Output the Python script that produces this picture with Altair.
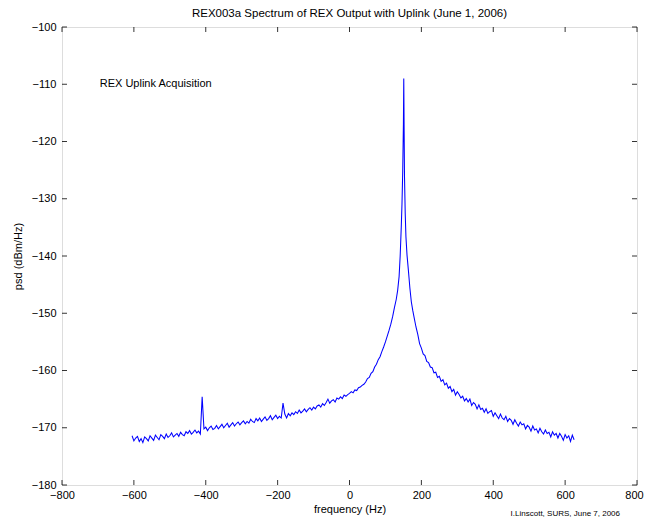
import altair as alt
import pandas as pd

# ---- data ----
freq_left = list(range(-605, 130, 5))
psd_left = [
    -171.4, -172.3, -171.8, -171.5, -172.4, -171.9, -172.6, -171.6, -171.9, -172.3,
    -171.4, -171.8, -172.2, -171.3, -171.7, -172.1, -171.2, -171.5, -171.9, -171.1,
    -171.7, -171.4, -170.9, -171.6, -171.3, -171.0, -171.5, -170.8, -171.2, -171.4,
    -170.7, -171.0, -170.5, -171.1, -170.8, -170.4, -170.9, -170.6, -171.1, -164.6,
    -170.2, -169.9, -170.5, -170.0, -169.7, -170.3, -170.1, -169.6, -170.2, -169.8,
    -169.4, -170.0, -169.6, -169.2, -169.9, -169.5, -169.1, -169.7, -169.3, -169.0,
    -169.5, -169.1, -168.8, -169.3, -168.9, -169.2, -168.5, -168.9, -169.1, -168.4,
    -168.8, -168.3, -168.9, -168.5, -168.1, -168.7, -168.4, -167.9, -168.6, -168.2,
    -167.8, -168.4, -168.0, -168.3, -165.7, -167.6, -168.3, -167.5, -167.9, -167.4,
    -167.7, -167.2, -167.5, -166.9, -167.4, -167.1, -166.7, -167.2, -166.8, -166.5,
    -166.9, -166.4, -166.7, -166.2, -166.0, -166.4, -165.8, -166.1, -165.6, -165.0,
    -165.7, -165.3, -165.1, -165.5, -164.8, -165.0, -164.6, -164.9, -164.3, -164.5,
    -164.2, -164.0, -163.7, -163.9, -163.4, -163.5, -163.0, -162.9, -162.6, -162.4,
    -162.0, -161.4, -161.2, -160.5, -160.2, -159.4, -158.9, -158.1, -157.6, -156.7,
    -155.9, -155.0, -154.0, -153.0, -151.9, -150.6, -149.0,
]
freq_peak = [130, 134, 138, 141, 144, 146, 148, 150, 151, 152, 153, 155, 157, 160, 164, 168, 172, 176]
psd_peak = [-147.6, -146.0, -143.6, -140.0, -135.0, -131.0, -125.5, -117.0, -109.0,
            -118.0, -126.0, -132.5, -136.6, -139.8, -142.6, -145.6, -148.0, -149.5]
freq_right = list(range(180, 630, 5))
psd_right = [
    -150.8, -152.4, -153.7, -155.3, -156.1, -157.1, -157.4, -158.4, -158.6, -159.4,
    -159.5, -160.4, -160.3, -161.2, -161.0, -161.9, -161.6, -162.5, -162.2, -163.1,
    -162.8, -163.7, -163.3, -164.3, -163.7, -164.2, -164.8, -164.5, -165.3, -164.9,
    -165.5, -165.0, -166.1, -165.6, -165.9, -166.7, -166.0, -166.8, -166.6, -167.3,
    -166.7, -167.5, -167.2, -167.0, -168.0, -167.4, -167.9, -168.4, -167.6, -168.3,
    -168.6, -168.0, -168.9, -168.4, -168.7, -169.4, -168.6, -169.2, -169.7, -169.0,
    -169.5, -169.3, -170.2, -169.6, -169.9, -170.6, -169.7, -170.4, -170.2, -170.9,
    -170.1, -170.7, -171.1, -170.4, -171.0, -170.8, -171.6, -170.7, -171.3, -171.0,
    -171.8, -171.0, -171.5, -172.2, -171.2, -171.8, -171.4, -172.4, -171.3, -172.1,
]
x_ticks = [-800, -600, -400, -200, 0, 200, 400, 600, 800]
y_ticks = [-180, -170, -160, -150, -140, -130, -120, -110, -100]

title_text = "REX003a Spectrum of REX Output with Uplink (June 1, 2006)"
legend_text = "REX Uplink Acquisition"
footer_text = "I.Linscott, SURS, June 7, 2006"

FONT = "Liberation Sans"
W, H = 575, 458

df = pd.DataFrame({
    "freq": freq_left + freq_peak + freq_right,
    "psd": psd_left + psd_peak + psd_right,
})

xscale = alt.Scale(domain=[-800, 800], nice=False, zero=False)
yscale = alt.Scale(domain=[-180, -100], nice=False, zero=False)

line = alt.Chart(df).mark_line(color="#0000ff", strokeWidth=1.05, clip=True).encode(
    x=alt.X("freq:Q", scale=xscale, title="frequency (Hz)",
            axis=alt.Axis(values=x_ticks, ticks=False, grid=False, domain=False,
                          labelFontSize=11, labelFont=FONT, labelColor="black",
                          labelPadding=4, titleFont=FONT, titleFontSize=11,
                          titleFontWeight="normal", titleColor="black", titlePadding=3,
                          labelFlush=False,
                          labelOffset={"condition": {"test": "datum.value === 800", "value": -3},
                                       "value": 0})),
    y=alt.Y("psd:Q", scale=yscale, title="psd (dBm/Hz)",
            axis=alt.Axis(values=y_ticks, ticks=False, grid=False, domain=False,
                          labelFontSize=11, labelFont=FONT, labelColor="black",
                          labelPadding=6, titleFont=FONT, titleFontSize=11,
                          titleFontWeight="normal", titleColor="black", titlePadding=8,
                          labelFlush=False)),
)

xt = pd.DataFrame({"v": x_ticks})
yt = pd.DataFrame({"v": y_ticks})

xtick_bot = alt.Chart(xt).mark_rule(color="black", strokeWidth=0.8).encode(
    x=alt.X("v:Q", scale=xscale), y=alt.value(H), y2=alt.value(H - 5))
xtick_top = alt.Chart(xt).mark_rule(color="black", strokeWidth=0.8).encode(
    x=alt.X("v:Q", scale=xscale), y=alt.value(0), y2=alt.value(5))
ytick_l = alt.Chart(yt).mark_rule(color="black", strokeWidth=0.8).encode(
    y=alt.Y("v:Q", scale=yscale), x=alt.value(0), x2=alt.value(5))
ytick_r = alt.Chart(yt).mark_rule(color="black", strokeWidth=0.8).encode(
    y=alt.Y("v:Q", scale=yscale), x=alt.value(W), x2=alt.value(W - 5))

label = alt.Chart(pd.DataFrame({"t": [legend_text], "x": [-695], "y": [-110]})).mark_text(
    align="left", baseline="middle", font=FONT, fontSize=11, color="black").encode(
    x=alt.X("x:Q", scale=xscale), y=alt.Y("y:Q", scale=yscale), text="t:N")

footer = alt.Chart(pd.DataFrame({"t": [footer_text]})).mark_text(
    align="right", baseline="bottom", font=FONT, fontSize=8, color="black").encode(
    x=alt.value(558), y=alt.value(H + 33), text="t:N")

chart = alt.layer(line, xtick_bot, xtick_top, ytick_l, ytick_r, label, footer).properties(
    width=W, height=H,
    title=alt.Title(title_text, font=FONT, fontSize=11.5, fontWeight="normal",
                    color="black", offset=2, frame="group"),
    padding={"left": 54, "top": 19, "right": 7, "bottom": 34},
    autosize=alt.AutoSizeParams(type="none"),
).configure_view(stroke="black", strokeWidth=0.8).configure(background="white")

chart.save("out.html", embed_options={"renderer": "svg", "actions": False})
